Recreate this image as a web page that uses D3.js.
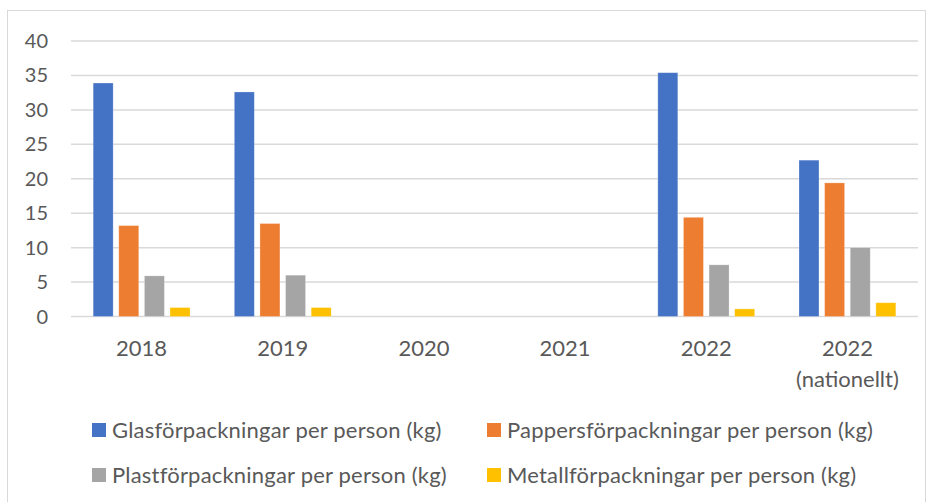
<!DOCTYPE html>
<html>
<head>
<meta charset="utf-8">
<script src="https://cdn.jsdelivr.net/npm/d3@7"></script>
<style>
  body { margin: 0; background: #fff; }
  svg text { font-family: Lato, "Open Sans", sans-serif; fill: #595959; }
</style>
</head>
<body>
<svg id="chart" width="933" height="502"></svg>
<script>
// Categories and series
const categories = ['2018', '2019', '2020', '2021', '2022', '2022 (nationellt)'];
const seriesNames = [
  'Glasförpackningar per person (kg)',
  'Pappersförpackningar per person (kg)',
  'Plastförpackningar per person (kg)',
  'Metallförpackningar per person (kg)'
];
const seriesColors = ['#4472C4', '#ED7D31', '#A5A5A5', '#FFC000'];

// values per category, null = no data
const glas   = [33.9, 32.6, null, null, 35.4, 22.7];
const papper = [13.2, 13.5, null, null, 14.4, 19.4];
const plast  = [5.9, 6.0, null, null, 7.5, 10.0];
const metall = [1.3, 1.3, null, null, 1.1, 2.0];
const yTicks = [0, 5, 10, 15, 20, 25, 30, 35, 40];

const values = [glas, papper, plast, metall];

const svg = d3.select('#chart');

// outer frame
svg.append('rect')
  .attr('x', 7.5).attr('y', 10.5)
  .attr('width', 918).attr('height', 500)
  .attr('fill', 'none')
  .attr('stroke', '#d9d9d9');

const plotL = 71, plotR = 918, plotT = 41, plotB = 316.5;

const x0 = d3.scaleBand().domain(categories).range([plotL, plotR]);
const groupW = x0.bandwidth() * 0.686;
const x1 = d3.scaleBand().domain(d3.range(4))
  .range([(x0.bandwidth() - groupW) / 2, (x0.bandwidth() + groupW) / 2])
  .paddingInner(0.22);
const y = d3.scaleLinear().domain([0, 40]).range([plotB, plotT]);

// gridlines
svg.append('g')
  .selectAll('line')
  .data(yTicks)
  .enter().append('line')
  .attr('x1', plotL).attr('x2', plotR)
  .attr('y1', d => y(d)).attr('y2', d => y(d))
  .attr('stroke', '#d9d9d9')
  .attr('stroke-width', 1.5);

// y labels
svg.append('g')
  .selectAll('text')
  .data(yTicks)
  .enter().append('text')
  .attr('x', 48)
  .attr('y', d => y(d))
  .attr('dy', '0.35em')
  .attr('text-anchor', 'end')
  .attr('font-size', 20)
  .text(d => d);

// bars
const groups = svg.append('g')
  .selectAll('g')
  .data(categories)
  .enter().append('g')
  .attr('transform', d => `translate(${x0(d)},0)`);

groups.selectAll('rect')
  .data((c, ci) => values.map((s, si) => ({ si, v: s[ci] })).filter(d => d.v != null))
  .enter().append('rect')
  .attr('x', d => x1(d.si))
  .attr('width', x1.bandwidth())
  .attr('y', d => y(d.v))
  .attr('height', d => y(0) - y(d.v))
  .attr('fill', d => seriesColors[d.si])
  .attr('stroke', '#fff')
  .attr('stroke-opacity', 0.35)
  .attr('stroke-width', 0.75);

// x labels
const xl = svg.append('g')
  .selectAll('text')
  .data(categories)
  .enter().append('text')
  .attr('x', d => x0(d) + x0.bandwidth() / 2)
  .attr('y', 356)
  .attr('text-anchor', 'middle')
  .attr('font-size', 22);

xl.each(function(d) {
  const parts = d.split(' ');
  const t = d3.select(this);
  parts.forEach((p, i) => {
    t.append('tspan')
      .attr('x', x0(d) + x0.bandwidth() / 2)
      .attr('dy', i === 0 ? 0 : 31)
      .text(p);
  });
});

// legend
const legendPos = [[92, 430], [487, 430], [92, 475], [487, 475]];
const legend = svg.append('g')
  .selectAll('g')
  .data(seriesNames)
  .enter().append('g')
  .attr('transform', (d, i) => `translate(${legendPos[i][0]},${legendPos[i][1]})`);

legend.append('rect')
  .attr('x', 0).attr('y', -7)
  .attr('width', 14).attr('height', 14)
  .attr('fill', (d, i) => seriesColors[i]);

legend.append('text')
  .attr('x', 20)
  .attr('dy', '0.36em')
  .attr('font-size', 22)
  .attr('letter-spacing', 0.2)
  .text(d => d);
</script>
</body>
</html>
